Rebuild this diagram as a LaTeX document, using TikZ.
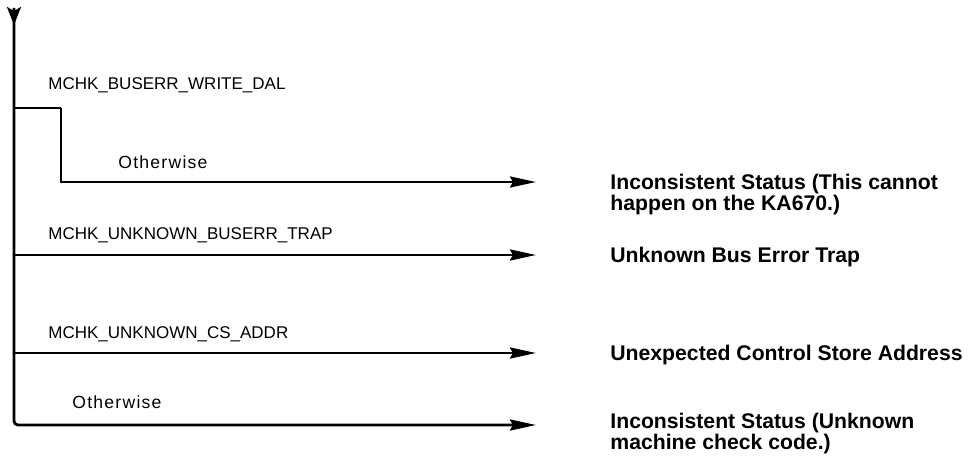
\documentclass[tikz,border=0pt]{standalone}
\usepackage{fontspec}
\setmainfont{Liberation Sans}
\usetikzlibrary{arrows.meta, positioning}
\tikzset{
  trunk/.style={line width=1.4pt, draw=black},
  flow/.style={line width=1.4pt, draw=black, -{Stealth[length=13pt, width=5.5pt, inset=1.5pt]}},
  cond/.style={anchor=base west, inner sep=0pt, font=\fontsize{8.5}{10}\selectfont},
  elsecond/.style={cond, font=\fontsize{8.8}{10}\selectfont\addfontfeature{LetterSpace=7}},
  outcome/.style={anchor=base west, inner sep=0pt, align=left, font=\bfseries\fontsize{10.6}{10.5}\selectfont}
}

\begin{document}
\begin{tikzpicture}[x=0.5pt, y=-0.5pt]
\useasboundingbox (0,0) rectangle (979,465);

% Trunk (entry at the top)
\coordinate (top) at (14,8);
\coordinate (toptip) at (14,25);
\coordinate (corner) at (14,425);
\draw[trunk, -{Stealth[length=9pt, width=7pt, inset=2pt]}] (top) -- (toptip);

% Branch 1: write DAL bus error
\coordinate (split) at (14,108);
\coordinate (step) at (61,108);
\coordinate (bend) at (61,182);
\coordinate (end1) at (536,182);
\node[cond] (dal) at (48,90) {MCHK\_BUSERR\_WRITE\_DAL};
\node[elsecond] (else1) at (118,168) {Otherwise};
\node[outcome] (res1) at (610,210) {Inconsistent Status (This cannot\\happen on the KA670.)};
\draw[trunk] (split) -- (step);
\draw[flow] (step) -- (bend) -- (end1);

% Branch 2: unknown bus error trap
\coordinate (tap2) at (14,255);
\coordinate (end2) at (536,255);
\node[cond] (trap) at (48,239) {MCHK\_UNKNOWN\_BUSERR\_TRAP};
\node[outcome] (res2) at (610,262) {Unknown Bus Error Trap};
\draw[flow] (tap2) -- (end2);

% Branch 3: unknown control store address
\coordinate (tap3) at (14,353);
\coordinate (end3) at (536,353);
\node[cond] (csaddr) at (48,338) {MCHK\_UNKNOWN\_CS\_ADDR};
\node[outcome] (res3) at (610,360) {Unexpected Control Store Address};
\draw[flow] (tap3) -- (end3);

% Branch 4: otherwise
\coordinate (end4) at (536,425);
\node[elsecond] (else2) at (72,408) {Otherwise};
\node[outcome] (res4) at (610,449) {Inconsistent Status (Unknown\\machine check code.)};
\draw[flow, rounded corners=2pt] (top) -- (corner) -- (end4);

\end{tikzpicture}
\end{document}
